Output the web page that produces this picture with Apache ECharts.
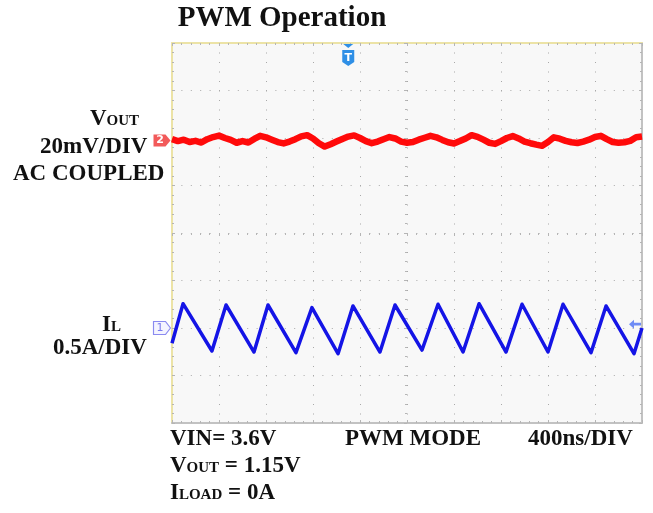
<!DOCTYPE html>
<html>
<head>
<meta charset="utf-8">
<script src="https://cdn.jsdelivr.net/npm/echarts@6/dist/echarts.min.js"></script>
<style>
html,body{margin:0;padding:0;background:#ffffff;}
#chart{width:653px;height:513px;}
</style>
</head>
<body>
<div id="chart"></div>
<script>
// ---- Scope settings ----
const TIME_MIN_NS = -2000;      // screen left (relative to screen centre)
const TIME_MAX_NS = 2000;       // screen right
const TIME_DIV_NS = 400;        // 400ns/DIV
const DIV_MIN = -4, DIV_MAX = 4;
const CH2_MV_PER_DIV = 20;      // VOUT 20mV/DIV
const CH2_OFFSET_DIV = 1.95;    // channel 2 ground marker
const CH1_A_PER_DIV = 0.5;      // IL 0.5A/DIV
const CH1_OFFSET_DIV = -2;      // channel 1 ground marker
const TRIG_TIME_NS = -500;      // trigger position (T marker)
const CH1_TRIG_LEVEL_A = 0.04;  // trigger level arrow

// ---- VOUT ripple (AC coupled, mV) ----
const VOUT_T = [-2000,-1950,-1900,-1850,-1800,-1750,-1700,-1650,-1600,-1550,-1500,-1450,-1400,-1350,-1300,-1250,-1200,-1150,-1100,-1050,
  -1000,-950,-900,-850,-800,-750,-700,-650,-600,-550,-500,-450,-400,-350,-300,-250,-200,-150,-100,-50,
  0,50,100,150,200,250,300,350,400,450,500,550,600,650,700,750,800,850,900,950,
  1000,1050,1100,1150,1200,1250,1300,1350,1400,1450,1500,1550,1600,1650,1700,1750,1800,1850,1900,1950,2000];
const VOUT_MV = [0.5,-0.3,0.3,-0.7,-0.2,-0.9,0.5,1.4,2.0,1.0,0.2,-1.0,-0.3,-0.9,0.6,1.9,1.3,0.3,-0.7,-1.3,
  -0.5,0.5,1.7,2.2,0.8,-1.2,-2.6,-1.6,-0.5,0.6,1.6,2.1,1.0,-0.3,-1.2,-0.5,0.5,1.4,0.8,-0.5,
  -1.0,-0.7,0.3,1.1,1.9,1.3,0.2,-0.8,-1.3,-0.3,0.8,2.2,1.5,0.3,-1.0,-1.5,-0.3,1.0,1.8,0.8,
  -0.5,-1.2,-1.8,-2.3,-0.7,1.3,0.7,-0.2,-0.8,-1.1,-0.5,0.3,1.4,1.9,0.5,-0.7,-1.0,-0.8,-0.2,1.3,1.6];

// ---- Inductor current (A), vertices of the triangle ripple ----
const IL_T = [-2000,-1906,-1660,-1540,-1302,-1183,-945,-809,-587,-460,-230,-102,128,264,477,613,843,979,1200,1328,1566,1694,1932,2000];
const IL_A = [-0.16,0.256,-0.242,0.242,-0.253,0.242,-0.26,0.214,-0.27,0.232,-0.253,0.242,-0.232,0.25,-0.253,0.256,-0.253,0.25,-0.253,0.25,-0.26,0.232,-0.27,0.0];

// ---- Texts ----
const TITLE = 'PWM Operation';
const BOTTOM_LEFT = 'VIN= 3.6V';
const BOTTOM_MID = 'PWM MODE';
const BOTTOM_RIGHT = '400ns/DIV';

const chart = echarts.init(document.getElementById('chart'), null, {renderer: 'canvas'});

const SERIF = '"Liberation Serif", "Times New Roman", serif';
const GRID_DOT = '#a9a9a9';
const TICK = '#b5b5b5';

const redData = VOUT_T.map((t, i) => [t, CH2_OFFSET_DIV + VOUT_MV[i] / CH2_MV_PER_DIV]);
const blueData = IL_T.map((t, i) => [t, CH1_OFFSET_DIV + IL_A[i] / CH1_A_PER_DIV]);

function xAx(extra) {
  return Object.assign({
    type: 'value', min: TIME_MIN_NS, max: TIME_MAX_NS, interval: TIME_DIV_NS,
    axisLabel: {show: false}, splitLine: {show: false},
    axisLine: {show: false, onZero: false},
    axisTick: {show: false}, minorTick: {show: false}
  }, extra);
}
function yAx(extra) {
  return Object.assign({
    type: 'value', min: DIV_MIN, max: DIV_MAX, interval: 1,
    axisLabel: {show: false}, splitLine: {show: false},
    axisLine: {show: false, onZero: false},
    axisTick: {show: false}, minorTick: {show: false}
  }, extra);
}

const rich = {
  b: {fontFamily: SERIF, fontWeight: 'bold', fontSize: 23, fill: '#111', verticalAlign: 'bottom'},
  s: {fontFamily: SERIF, fontWeight: 'bold', fontSize: 15, fill: '#111', verticalAlign: 'bottom', padding: [0, 0, 2, 0]}
};
function txt(x, y, text, align, size) {
  return {
    type: 'text', x: x, y: y, silent: true,
    style: {text: text, rich: rich, fill: '#111',
      font: 'bold ' + (size || 23) + 'px ' + SERIF,
      align: align || 'left', verticalAlign: 'middle'}
  };
}

const option = {
  animation: false,
  backgroundColor: '#ffffff',
  grid: {left: 172, top: 43, width: 470, height: 380, show: true,
    backgroundColor: '#f8f8f8', borderWidth: 0},
  xAxis: [
    xAx({axisLine: {show: false, onZero: true, onZeroAxisIndex: 0},
      axisTick: {show: true, inside: false, length: 3, lineStyle: {color: TICK}},
      minorTick: {show: true, splitNumber: 5, length: 2, lineStyle: {color: TICK}},
      splitLine: {show: true, lineStyle: {color: GRID_DOT, width: 1, type: [1, 8.5]}}}),
    xAx({axisLine: {show: false, onZero: true, onZeroAxisIndex: 0},
      axisTick: {show: true, inside: true, length: 3, lineStyle: {color: TICK}},
      minorTick: {show: true, splitNumber: 5, length: 2, lineStyle: {color: TICK}}}),
    xAx({position: 'top',
      axisLine: {show: true, onZero: false, lineStyle: {color: '#ece3a6', width: 2}},
      axisTick: {show: true, inside: true, length: 3, lineStyle: {color: TICK}},
      minorTick: {show: true, splitNumber: 5, length: 2, lineStyle: {color: TICK}}}),
    xAx({position: 'bottom',
      axisLine: {show: true, onZero: false, lineStyle: {color: '#c2c2c2', width: 2}},
      axisTick: {show: true, inside: true, length: 3, lineStyle: {color: TICK}},
      minorTick: {show: true, splitNumber: 5, length: 2, lineStyle: {color: TICK}}})
  ],
  yAxis: [
    yAx({axisLine: {show: false, onZero: true, onZeroAxisIndex: 0},
      axisTick: {show: true, inside: false, length: 3, lineStyle: {color: TICK}},
      minorTick: {show: true, splitNumber: 5, length: 2, lineStyle: {color: TICK}},
      splitLine: {show: true, lineStyle: {color: GRID_DOT, width: 1, type: [1, 8.4]}}}),
    yAx({axisLine: {show: false, onZero: true, onZeroAxisIndex: 0},
      axisTick: {show: true, inside: true, length: 3, lineStyle: {color: TICK}},
      minorTick: {show: true, splitNumber: 5, length: 2, lineStyle: {color: TICK}}}),
    yAx({position: 'left',
      axisLine: {show: true, onZero: false, lineStyle: {color: '#ece3a6', width: 2}},
      axisTick: {show: true, inside: true, length: 3, lineStyle: {color: TICK}},
      minorTick: {show: true, splitNumber: 5, length: 2, lineStyle: {color: TICK}}}),
    yAx({position: 'right',
      axisLine: {show: true, onZero: false, lineStyle: {color: '#c2c2c2', width: 2}},
      axisTick: {show: true, inside: true, length: 3, lineStyle: {color: TICK}},
      minorTick: {show: true, splitNumber: 5, length: 2, lineStyle: {color: TICK}}})
  ],
  series: [
    {
      name: 'VOUT', type: 'line', xAxisIndex: 0, yAxisIndex: 0, data: redData,
      symbol: 'none', clip: false, z: 3,
      lineStyle: {color: '#ff0a0a', width: 6.5, join: 'round'},
      markPoint: {
        symbol: 'path://M0,0 L12,0 L17,6 L12,12 L0,12 Z', symbolSize: [17, 12],
        symbolOffset: [-10, 0], itemStyle: {color: '#f25a5a'},
        label: {show: true, formatter: '2', color: '#fff', fontSize: 11, fontWeight: 'bold',
          fontFamily: 'DejaVu Sans', offset: [-2, 0]},
        data: [{coord: [TIME_MIN_NS, CH2_OFFSET_DIV]}]
      }
    },
    {
      name: 'IL', type: 'line', xAxisIndex: 0, yAxisIndex: 0, data: blueData,
      symbol: 'none', clip: false, z: 3,
      lineStyle: {color: '#1414e6', width: 3.5, join: 'round'},
      markPoint: {
        data: [
          {coord: [TIME_MIN_NS, CH1_OFFSET_DIV],
            symbol: 'path://M0,0 L12,0 L17,6 L12,12 L0,12 Z', symbolSize: [17, 13], symbolOffset: [-10, 0],
            itemStyle: {color: '#f4f4ff', borderColor: '#8a8af0', borderWidth: 1},
            label: {show: true, formatter: '1', color: '#7b7bee', fontSize: 11,
              fontFamily: 'DejaVu Sans', offset: [-2, 0]}},
          {coord: [TIME_MAX_NS, CH1_OFFSET_DIV + CH1_TRIG_LEVEL_A / CH1_A_PER_DIV],
            symbol: 'path://M0,5 L5,0 L5,3.5 L12,3.5 L12,6.5 L5,6.5 L5,10 Z', symbolSize: [12, 9], symbolOffset: [-7, 0],
            itemStyle: {color: '#6f8cf5'}, label: {show: false}},
          {coord: [TRIG_TIME_NS, DIV_MAX],
            symbol: 'path://M1,0 L11,0 L6,4 Z M0,6 L12,6 L12,18 L6,22 L0,18 Z', symbolSize: [12, 22], symbolOffset: [0, 12],
            itemStyle: {color: '#2f8fe6'},
            label: {show: true, formatter: 'T', color: '#fff', fontSize: 11, fontWeight: 'bold',
              fontFamily: 'DejaVu Sans', offset: [0, 3]}}
        ]
      }
    }
  ],
  graphic: {elements: [
    txt(282, 19, TITLE, 'center', 29),
    txt(90, 119, '{b|V}{s|OUT}'),
    txt(40, 147, '20mV/DIV'),
    txt(13, 174, 'AC COUPLED'),
    txt(102, 325, '{b|I}{s|L}'),
    txt(53, 348, '0.5A/DIV'),
    txt(170, 439, BOTTOM_LEFT),
    txt(345, 439, BOTTOM_MID),
    txt(528, 439, BOTTOM_RIGHT),
    txt(170, 466, '{b|V}{s|OUT}{b| = 1.15V}'),
    txt(170, 493, '{b|I}{s|LOAD}{b| = 0A}')
  ]}
};
chart.setOption(option);
</script>
</body>
</html>
